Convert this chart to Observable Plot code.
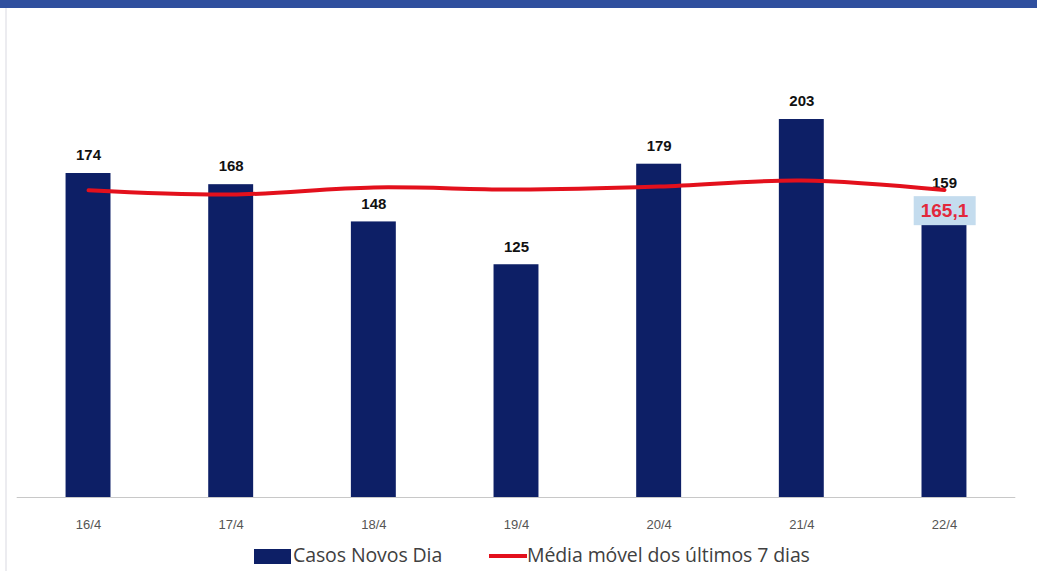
<!DOCTYPE html>
<html><head><meta charset="utf-8">
<script src="https://cdn.jsdelivr.net/npm/d3@7"></script>
<script src="https://cdn.jsdelivr.net/npm/@observablehq/plot@0.6"></script>
<style>
body{margin:0;background:#fff;width:1037px;height:571px;overflow:hidden;font-family:"Open Sans",sans-serif;}
#band{height:8px;background:#2f4f9e;}
#legend{position:absolute;left:0;top:540px;width:1037px;height:30px;}
.sw{position:absolute;}
.lt{position:absolute;font-size:19.5px;color:#404040;font-family:"Open Sans",sans-serif;letter-spacing:-0.1px;}
</style></head>
<body>
<div id="band"></div>
<div id="chart"></div>
<div id="legend">
  <div class="sw" style="left:254px;top:9px;width:37px;height:15px;background:#0d1f66"></div>
  <div class="lt" style="left:293px;top:1px;">Casos Novos Dia</div>
  <div class="sw" style="left:489px;top:14px;width:38px;height:4px;background:#e3101c"></div>
  <div class="lt" style="left:527px;top:1px;">Média móvel dos últimos 7 dias</div>
</div>
<script>
const dias = ["16/4","17/4","18/4","19/4","20/4","21/4","22/4"];
const casos = [174,168,148,125,179,203,159];
const media = [165.0,162.7,166.5,165.4,167.0,170.2,165.1];

const data = dias.map((d,i)=>({dia:d, casos:casos[i], media:media[i]}));
const last = [data[data.length-1]];

const plot = Plot.plot({
  width:1037, height:530,
  marginLeft:16.7, marginRight:21.7, marginTop:23.5, marginBottom:41,
  style:{background:"transparent", fontFamily:"Liberation Sans, Arial, sans-serif"},
  x:{domain:dias, paddingInner:0.685, paddingOuter:0.3425, round:false, label:null, axis:null},
  y:{domain:[0,250], axis:null},
  marks:[
    Plot.ruleY([0],{stroke:"#c8c8c8", strokeWidth:1}),
    Plot.barY(data,{x:"dia", y:"casos", fill:"#0d1f66"}),
    Plot.text(data,{x:"dia", y:"casos", text:d=>String(d.casos), dy:-18, fontSize:15, fontWeight:"bold", fill:"#111"}),
    Plot.line(data,{x:"dia", y:"media", stroke:"#e3101c", strokeWidth:4, curve:"catmull-rom"}),
    Plot.text(last,{x:"dia", y:"media", text:d=>d.media.toFixed(1).replace(".",","), dy:21, fontSize:19, fontWeight:"bold", fill:"#e2283c", className:"malabel"}),
    Plot.axisX({tickSize:0, tickPadding:22, fontSize:13, color:"#555", label:null})
  ]
});
plot.style.position="absolute";
plot.style.left="0px";
plot.style.top="8px";
document.getElementById("chart").appendChild(plot);
// light box behind the moving-average label
const t = plot.querySelector(".malabel text");
if (t) {
  const b = t.getBBox();
  const r = document.createElementNS("http://www.w3.org/2000/svg","rect");
  r.setAttribute("x", b.x-7); r.setAttribute("y", b.y-4);
  r.setAttribute("width", b.width+14); r.setAttribute("height", b.height+8);
  r.setAttribute("fill", "#c4dcee");
  if (t.getAttribute("transform")) r.setAttribute("transform", t.getAttribute("transform"));
  t.parentNode.insertBefore(r, t);
}
// faint left frame line
const fr = document.createElement("div");
fr.style.cssText="position:absolute;left:5px;top:8px;width:2px;height:563px;background:#ececf0";
document.body.appendChild(fr);
</script>
</body></html>
